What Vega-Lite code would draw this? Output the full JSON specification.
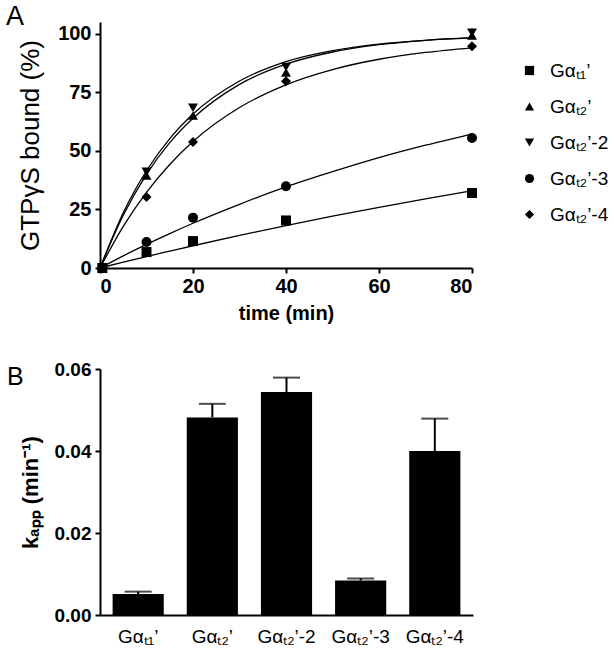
{
  "$schema": "https://vega.github.io/schema/vega-lite/v6.json",
  "padding": {"left": 6, "top": 3, "right": 3, "bottom": 5},
  "background": "white",
  "config": {
    "font": "Liberation Sans",
    "view": {"stroke": null},
    "axis": {"domainColor": "black", "domainWidth": 2, "tickColor": "black", "tickWidth": 2, "tickSize": 5, "grid": false, "labelColor": "black", "titleColor": "black", "labelFont": "Liberation Sans", "titleFont": "Liberation Sans"},
    "legend": {"labelFont": "Liberation Sans", "labelColor": "black"}
  },
  "spacing": 37,
  "datasets": {
    "points": [
      {"sample": "Gαₜ₁’", "t": 0.5, "y": 0},
      {"sample": "Gαₜ₁’", "t": 10, "y": 6.8},
      {"sample": "Gαₜ₁’", "t": 20, "y": 11.5},
      {"sample": "Gαₜ₁’", "t": 40, "y": 20.3},
      {"sample": "Gαₜ₁’", "t": 80, "y": 32.0},
      {"sample": "Gαₜ₂’", "t": 0.5, "y": 0},
      {"sample": "Gαₜ₂’", "t": 10, "y": 39.5},
      {"sample": "Gαₜ₂’", "t": 20, "y": 65.1},
      {"sample": "Gαₜ₂’", "t": 40, "y": 83.5},
      {"sample": "Gαₜ₂’", "t": 80, "y": 99.3},
      {"sample": "Gαₜ₂’-2", "t": 0.5, "y": 0},
      {"sample": "Gαₜ₂’-2", "t": 10, "y": 41.0},
      {"sample": "Gαₜ₂’-2", "t": 20, "y": 68.4},
      {"sample": "Gαₜ₂’-2", "t": 40, "y": 85.8},
      {"sample": "Gαₜ₂’-2", "t": 80, "y": 100.4},
      {"sample": "Gαₜ₂’-3", "t": 0.5, "y": 0},
      {"sample": "Gαₜ₂’-3", "t": 10, "y": 11.1},
      {"sample": "Gαₜ₂’-3", "t": 20, "y": 21.5},
      {"sample": "Gαₜ₂’-3", "t": 40, "y": 34.9},
      {"sample": "Gαₜ₂’-3", "t": 80, "y": 55.5},
      {"sample": "Gαₜ₂’-4", "t": 0.5, "y": 0},
      {"sample": "Gαₜ₂’-4", "t": 10, "y": 30.3},
      {"sample": "Gαₜ₂’-4", "t": 20, "y": 53.8},
      {"sample": "Gαₜ₂’-4", "t": 40, "y": 79.7},
      {"sample": "Gαₜ₂’-4", "t": 80, "y": 94.7}
    ],
    "curves": [
      {"sample": "Gαₜ₁’", "t": 0, "y": 0},
      {"sample": "Gαₜ₁’", "t": 5, "y": 2.5},
      {"sample": "Gαₜ₁’", "t": 10, "y": 4.9},
      {"sample": "Gαₜ₁’", "t": 15, "y": 7.2},
      {"sample": "Gαₜ₁’", "t": 20, "y": 9.5},
      {"sample": "Gαₜ₁’", "t": 30, "y": 13.9},
      {"sample": "Gαₜ₁’", "t": 40, "y": 18.1},
      {"sample": "Gαₜ₁’", "t": 50, "y": 22.1},
      {"sample": "Gαₜ₁’", "t": 60, "y": 25.9},
      {"sample": "Gαₜ₁’", "t": 70, "y": 29.5},
      {"sample": "Gαₜ₁’", "t": 80, "y": 33.0},
      {"sample": "Gαₜ₂’", "t": 0, "y": 0},
      {"sample": "Gαₜ₂’", "t": 5, "y": 22.5},
      {"sample": "Gαₜ₂’", "t": 10, "y": 40.0},
      {"sample": "Gαₜ₂’", "t": 15, "y": 53.5},
      {"sample": "Gαₜ₂’", "t": 20, "y": 63.9},
      {"sample": "Gαₜ₂’", "t": 30, "y": 78.4},
      {"sample": "Gαₜ₂’", "t": 40, "y": 87.0},
      {"sample": "Gαₜ₂’", "t": 50, "y": 92.2},
      {"sample": "Gαₜ₂’", "t": 60, "y": 95.3},
      {"sample": "Gαₜ₂’", "t": 70, "y": 97.2},
      {"sample": "Gαₜ₂’", "t": 80, "y": 98.3},
      {"sample": "Gαₜ₂’-2", "t": 0, "y": 0},
      {"sample": "Gαₜ₂’-2", "t": 5, "y": 23.6},
      {"sample": "Gαₜ₂’-2", "t": 10, "y": 41.5},
      {"sample": "Gαₜ₂’-2", "t": 15, "y": 55.2},
      {"sample": "Gαₜ₂’-2", "t": 20, "y": 65.7},
      {"sample": "Gαₜ₂’-2", "t": 30, "y": 79.8},
      {"sample": "Gαₜ₂’-2", "t": 40, "y": 88.1},
      {"sample": "Gαₜ₂’-2", "t": 50, "y": 92.8},
      {"sample": "Gαₜ₂’-2", "t": 60, "y": 95.6},
      {"sample": "Gαₜ₂’-2", "t": 70, "y": 97.2},
      {"sample": "Gαₜ₂’-2", "t": 80, "y": 98.2},
      {"sample": "Gαₜ₂’-3", "t": 0, "y": 0},
      {"sample": "Gαₜ₂’-3", "t": 5, "y": 5.2},
      {"sample": "Gαₜ₂’-3", "t": 10, "y": 10.1},
      {"sample": "Gαₜ₂’-3", "t": 15, "y": 14.7},
      {"sample": "Gαₜ₂’-3", "t": 20, "y": 19.1},
      {"sample": "Gαₜ₂’-3", "t": 30, "y": 27.2},
      {"sample": "Gαₜ₂’-3", "t": 40, "y": 34.6},
      {"sample": "Gαₜ₂’-3", "t": 50, "y": 41.1},
      {"sample": "Gαₜ₂’-3", "t": 60, "y": 47.1},
      {"sample": "Gαₜ₂’-3", "t": 70, "y": 52.4},
      {"sample": "Gαₜ₂’-3", "t": 80, "y": 57.2},
      {"sample": "Gαₜ₂’-4", "t": 0, "y": 0},
      {"sample": "Gαₜ₂’-4", "t": 5, "y": 17.8},
      {"sample": "Gαₜ₂’-4", "t": 10, "y": 32.3},
      {"sample": "Gαₜ₂’-4", "t": 15, "y": 44.2},
      {"sample": "Gαₜ₂’-4", "t": 20, "y": 54.0},
      {"sample": "Gαₜ₂’-4", "t": 30, "y": 68.5},
      {"sample": "Gαₜ₂’-4", "t": 40, "y": 78.2},
      {"sample": "Gαₜ₂’-4", "t": 50, "y": 84.7},
      {"sample": "Gαₜ₂’-4", "t": 60, "y": 89.1},
      {"sample": "Gαₜ₂’-4", "t": 70, "y": 92.0},
      {"sample": "Gαₜ₂’-4", "t": 80, "y": 94.0}
    ],
    "bars": [
      {"label": "Gαₜ₁’", "k": 0.0051, "hi": 0.0057},
      {"label": "Gαₜ₂’", "k": 0.0482, "hi": 0.0515},
      {"label": "Gαₜ₂’-2", "k": 0.0544, "hi": 0.0579},
      {"label": "Gαₜ₂’-3", "k": 0.0084, "hi": 0.0089},
      {"label": "Gαₜ₂’-4", "k": 0.0400, "hi": 0.0479}
    ]
  },
  "vconcat": [
    {
      "width": 372,
      "height": 246,
      "title": {"text": "A", "anchor": "start", "frame": "group", "dx": -94, "fontSize": 27, "fontWeight": "normal", "offset": -9, "font": "Liberation Sans", "color": "black"},
      "layer": [
        {
          "data": {"name": "curves"},
          "mark": {"type": "line", "color": "black", "strokeWidth": 1.3, "interpolate": "monotone"},
          "encoding": {
            "x": {"field": "t", "type": "quantitative", "scale": {"domain": [0, 80], "nice": false},
              "axis": {"title": "time (min)", "values": [0, 20, 40, 60, 80], "labelFontSize": 20, "labelFontWeight": "bold", "titleFontSize": 20, "titleFontWeight": "bold", "titlePadding": 7, "labelPadding": 3}},
            "y": {"field": "y", "type": "quantitative", "scale": {"domain": [0, 105], "nice": false},
              "axis": {"title": "GTPγS bound (%)", "values": [0, 25, 50, 75, 100], "labelFontSize": 20, "labelFontWeight": "bold", "titleFontSize": 26, "titleFontWeight": "normal", "titlePadding": 14, "labelPadding": 4}},
            "detail": {"field": "sample"}
          }
        },
        {
          "data": {"name": "points"},
          "mark": {"type": "point", "filled": true, "color": "black", "opacity": 1, "size": 100},
          "encoding": {
            "x": {"field": "t", "type": "quantitative"},
            "y": {"field": "y", "type": "quantitative"},
            "shape": {"field": "sample", "type": "nominal",
              "scale": {"domain": ["Gαₜ₁’", "Gαₜ₂’", "Gαₜ₂’-2", "Gαₜ₂’-3", "Gαₜ₂’-4"], "range": ["square", "triangle-up", "triangle-down", "circle", "diamond"]},
              "legend": {"orient": "none", "legendX": 420, "legendY": 39, "title": null, "labelFontSize": 19, "symbolSize": 85, "symbolFillColor": "black", "symbolStrokeColor": "black", "symbolStrokeWidth": 0, "rowPadding": 16, "labelOffset": 11}}
          }
        }
      ]
    },
    {
      "width": 373,
      "height": 246,
      "title": {"text": "B", "anchor": "start", "frame": "group", "dx": -93, "dy": 30, "fontSize": 25, "fontWeight": "normal", "offset": 0, "font": "Liberation Sans", "color": "black"},
      "data": {"name": "bars"},
      "encoding": {
        "x": {"field": "label", "type": "nominal", "sort": null, "scale": {"paddingInner": 0.31, "paddingOuter": 0.17},
          "axis": {"title": null, "labelAngle": 0, "ticks": false, "labelFontSize": 19, "labelPadding": 12, "labelFontWeight": "normal"}}
      },
      "layer": [
        {
          "mark": {"type": "bar", "color": "black"},
          "encoding": {
            "y": {"field": "k", "type": "quantitative", "scale": {"domain": [0, 0.06], "nice": false},
              "axis": {"title": "kₐₚₚ (min⁻¹)", "values": [0, 0.02, 0.04, 0.06], "format": ".2f", "labelFontSize": 19, "labelFontWeight": "bold", "titleFontSize": 22, "titleFontWeight": "bold", "titlePadding": 12, "labelPadding": 4}}
          }
        },
        {
          "mark": {"type": "rule", "color": "black", "strokeWidth": 2},
          "encoding": {"y": {"field": "k", "type": "quantitative"}, "y2": {"field": "hi"}}
        },
        {
          "mark": {"type": "tick", "color": "black", "thickness": 2, "size": 27},
          "encoding": {"y": {"field": "hi", "type": "quantitative"}}
        }
      ]
    }
  ]
}
